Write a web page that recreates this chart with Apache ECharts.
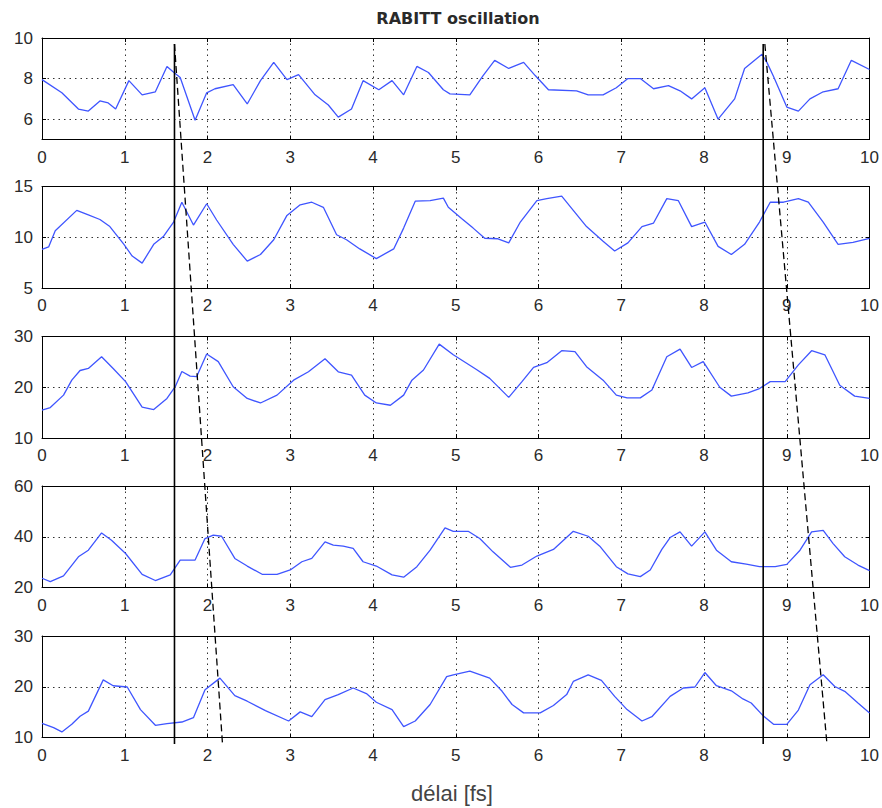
<!DOCTYPE html>
<html>
<head>
<meta charset="utf-8">
<script src="https://cdn.jsdelivr.net/npm/echarts@6/dist/echarts.min.js"></script>
<style>html,body{margin:0;padding:0;background:#fff;}#c{width:882px;height:808px;}</style>
</head>
<body>
<div id="c"></div>
<script>
const titleText = 'RABITT oscillation';
const xLabel = 'délai [fs]';
const xTicks = [0,1,2,3,4,5,6,7,8,9,10];

const yRanges = [[5,10],[5,15],[10,30],[20,60],[10,30]];
const yTickValues = [[6,8,10],[5,10,15],[10,20,30],[20,40,60],[10,20,30]];

const panel1 = [[0,7.95],[0.24,7.3],[0.44,6.5],[0.56,6.4],[0.70,6.9],[0.80,6.8],[0.89,6.5],[1.05,7.9],[1.21,7.2],[1.37,7.35],[1.51,8.6],[1.58,8.35],[1.67,8.05],[1.85,5.95],[1.99,7.3],[2.09,7.5],[2.31,7.7],[2.48,6.75],[2.64,7.9],[2.80,8.8],[2.96,7.95],[3.10,8.2],[3.30,7.2],[3.46,6.7],[3.58,6.1],[3.74,6.5],[3.88,7.9],[4.07,7.45],[4.23,7.9],[4.37,7.2],[4.53,8.6],[4.67,8.3],[4.85,7.45],[4.93,7.25],[5.17,7.2],[5.33,8.15],[5.47,8.9],[5.64,8.5],[5.82,8.8],[5.96,8.15],[6.12,7.45],[6.46,7.4],[6.60,7.2],[6.78,7.2],[6.94,7.55],[7.08,8.0],[7.23,8.0],[7.39,7.5],[7.57,7.65],[7.71,7.4],[7.85,7.0],[8.01,7.55],[8.17,6.0],[8.37,7.0],[8.49,8.5],[8.70,9.2],[8.76,8.8],[8.84,8.1],[9.00,6.6],[9.14,6.4],[9.28,7.0],[9.44,7.35],[9.62,7.5],[9.78,8.9],[10,8.45]];

const panel2 = [[0,8.8],[0.08,9.05],[0.16,10.65],[0.42,12.65],[0.56,12.2],[0.70,11.75],[0.82,11.05],[0.99,9.3],[1.09,8.15],[1.21,7.45],[1.35,9.3],[1.47,10.1],[1.59,11.5],[1.69,13.45],[1.83,11.2],[1.99,13.3],[2.11,11.7],[2.31,9.3],[2.48,7.65],[2.64,8.3],[2.80,9.75],[2.96,12.15],[3.12,13.2],[3.26,13.45],[3.40,12.95],[3.56,10.25],[3.68,9.75],[3.84,8.85],[4.04,7.9],[4.25,8.85],[4.37,10.9],[4.51,13.55],[4.69,13.6],[4.85,13.85],[4.91,12.95],[5.07,11.85],[5.21,10.9],[5.35,9.9],[5.51,9.85],[5.64,9.45],[5.78,11.5],[5.98,13.6],[6.10,13.8],[6.28,14.05],[6.42,12.65],[6.58,11.05],[6.78,9.6],[6.92,8.65],[7.08,9.45],[7.25,11.05],[7.39,11.4],[7.55,13.8],[7.69,13.6],[7.85,11.05],[8.01,11.5],[8.17,9.1],[8.33,8.3],[8.49,9.3],[8.67,11.5],[8.80,13.45],[8.96,13.45],[9.14,13.8],[9.26,13.45],[9.44,11.5],[9.62,9.3],[9.80,9.5],[10,9.9]];

const panel3 = [[0,15.5],[0.1,16.0],[0.26,18.45],[0.36,21.4],[0.46,23.3],[0.56,23.7],[0.72,26.0],[0.86,23.7],[1.01,21.1],[1.21,16.1],[1.35,15.6],[1.51,17.8],[1.61,20.1],[1.69,23.1],[1.79,22.2],[1.87,22.1],[1.99,26.55],[2.13,25.05],[2.31,20.1],[2.48,17.8],[2.64,16.9],[2.84,18.45],[3.04,21.4],[3.22,23.05],[3.42,25.6],[3.58,23.05],[3.74,22.4],[3.90,18.45],[4.04,16.9],[4.21,16.45],[4.37,18.45],[4.47,21.4],[4.61,23.4],[4.80,28.5],[4.97,26.4],[5.25,23.5],[5.41,21.75],[5.64,18.0],[5.80,21.1],[5.94,23.9],[6.10,24.85],[6.28,27.2],[6.44,27.0],[6.58,24.05],[6.78,21.4],[6.94,18.45],[7.07,17.9],[7.23,17.9],[7.37,19.45],[7.55,26.0],[7.71,27.5],[7.85,23.9],[7.99,25.05],[8.19,20.0],[8.33,18.25],[8.53,18.9],[8.67,19.75],[8.80,21.1],[8.98,21.1],[9.14,24.4],[9.30,27.2],[9.46,26.4],[9.64,20.4],[9.82,18.25],[10,17.8]];

const panel4 = [[0,23.65],[0.1,22.35],[0.26,24.55],[0.44,32.1],[0.56,34.7],[0.72,41.5],[0.84,38.6],[1.01,33.4],[1.21,25.2],[1.37,22.75],[1.55,24.95],[1.67,30.8],[1.85,30.8],[1.97,39.3],[2.07,40.6],[2.17,40.2],[2.33,31.45],[2.48,28.45],[2.66,25.2],[2.84,25.2],[3.0,26.9],[3.14,30.15],[3.26,31.45],[3.42,38.0],[3.52,36.7],[3.64,36.3],[3.76,35.4],[3.88,30.15],[4.04,28.45],[4.23,24.95],[4.37,24.05],[4.53,28.2],[4.69,34.7],[4.87,43.5],[4.97,42.15],[5.15,42.15],[5.29,39.3],[5.45,34.05],[5.66,27.95],[5.80,28.85],[5.98,32.4],[6.18,35.0],[6.42,42.15],[6.60,40.2],[6.74,36.3],[6.94,28.2],[7.08,25.35],[7.23,24.3],[7.35,26.9],[7.49,35.0],[7.59,39.7],[7.71,41.9],[7.85,36.3],[8.01,41.9],[8.15,34.7],[8.33,30.15],[8.51,29.25],[8.67,28.2],[8.86,28.2],[9.0,29.1],[9.16,34.7],[9.30,41.9],[9.44,42.55],[9.56,37.3],[9.70,32.1],[9.86,28.85],[10,26.65]];

const panel5 = [[0,12.8],[0.14,11.95],[0.24,11.1],[0.36,12.6],[0.46,14.2],[0.56,15.2],[0.74,21.35],[0.86,20.2],[1.03,19.95],[1.19,15.5],[1.37,12.4],[1.51,12.75],[1.69,13.05],[1.83,13.9],[1.97,19.4],[2.15,21.7],[2.33,18.25],[2.48,17.15],[2.70,15.3],[2.98,13.25],[3.12,15.05],[3.26,14.1],[3.42,17.45],[3.58,18.45],[3.76,19.75],[3.92,18.65],[4.04,16.95],[4.23,15.5],[4.37,12.15],[4.51,13.25],[4.69,16.5],[4.89,22.0],[4.97,22.35],[5.17,23.1],[5.41,21.7],[5.56,19.1],[5.68,16.5],[5.82,14.85],[6.02,14.85],[6.18,16.3],[6.34,18.45],[6.42,21.05],[6.60,22.35],[6.76,21.25],[6.92,18.1],[7.07,15.5],[7.25,13.25],[7.37,14.1],[7.59,18.1],[7.75,19.75],[7.89,19.95],[8.01,22.8],[8.15,20.2],[8.33,19.2],[8.47,17.6],[8.57,16.8],[8.71,14.35],[8.84,12.6],[9.0,12.6],[9.14,15.4],[9.28,20.4],[9.44,22.35],[9.58,20.05],[9.70,19.1],[9.86,16.8],[10,14.85]];

// annotation lines in delay units; vertical fraction 0 = bottom, 1 = top of the stack
const solidLine1 = [[1.6,0],[1.6,1]];
const dashedLine1 = [[1.6,1],[2.18,0]];
const solidLine2 = [[8.71,0],[8.71,1]];
const dashedLine2 = [[8.73,1],[9.48,0]];

const panels = [panel1, panel2, panel3, panel4, panel5];
const gridTops = [38, 186.5, 336.5, 486, 636];
const gridH = 101.5;
const FONT = 'Liberation Sans';

const grids = [], xAxes = [], yAxes = [], series = [];
panels.forEach((data, i) => {
  grids.push({left: 42, right: 12, top: gridTops[i], height: gridH});
  const [ymin, ymax] = yRanges[i];
  xAxes.push({
    type: 'value', gridIndex: i, min: 0, max: 10, interval: 1, position: 'bottom',
    axisLine: {show: true, onZero: false, lineStyle: {color: '#000', width: 1}},
    axisTick: {show: true, inside: true, length: 4, lineStyle: {color: '#000'}},
    axisLabel: {show: true, color: '#2a2a2a', fontSize: 17, fontFamily: FONT, margin: 9},
    splitLine: {show: true, lineStyle: {color: '#333', type: [1.5, 4], width: 1}}
  });
  xAxes.push({
    type: 'value', gridIndex: i, min: 0, max: 10, interval: 1, position: 'top',
    axisLine: {show: true, onZero: false, lineStyle: {color: '#000', width: 1}},
    axisTick: {show: true, inside: true, length: 4, lineStyle: {color: '#000'}},
    axisLabel: {show: false}, splitLine: {show: false}
  });
  const yTickCfg = {show: true, inside: true, length: 4, lineStyle: {color: '#000'}, customValues: yTickValues[i]};
  yAxes.push({
    type: 'value', gridIndex: i, min: ymin, max: ymax, position: 'left',
    axisLine: {show: true, onZero: false, lineStyle: {color: '#000', width: 1}},
    axisTick: yTickCfg,
    axisLabel: {show: true, color: '#2a2a2a', fontSize: 17, fontFamily: FONT, margin: 9, customValues: yTickValues[i]},
    splitLine: {show: true, lineStyle: {color: '#333', type: [1.5, 4], width: 1}}
  });
  yAxes.push({
    type: 'value', gridIndex: i, min: ymin, max: ymax, position: 'right',
    axisLine: {show: true, onZero: false, lineStyle: {color: '#000', width: 1}},
    axisTick: yTickCfg,
    axisLabel: {show: false}, splitLine: {show: false}
  });
  series.push({
    type: 'line', xAxisIndex: 2 * i, yAxisIndex: 2 * i, data: data,
    showSymbol: false, symbol: 'none', animation: false,
    lineStyle: {color: '#3f55ff', width: 1.3}, z: 3
  });
});

const oi = panels.length;
grids.push({left: 42, right: 12, top: 44, bottom: 64});
xAxes.push({type: 'value', gridIndex: oi, min: 0, max: 10, show: false});
yAxes.push({type: 'value', gridIndex: oi, min: 0, max: 1, show: false});
const annoX = 2 * oi, annoY = 2 * oi;
[[solidLine1, 'solid'], [solidLine2, 'solid'], [dashedLine1, [7, 4]], [dashedLine2, [7, 4]]].forEach(([d, t]) => {
  series.push({
    type: 'line', xAxisIndex: annoX, yAxisIndex: annoY, data: d, symbol: 'none', animation: false,
    lineStyle: {color: '#000', width: t === 'solid' ? 1.6 : 1.3, type: t}, z: 5
  });
});

const chart = echarts.init(document.getElementById('c'), null, {renderer: 'svg'});
chart.setOption({
  backgroundColor: '#fff',
  animation: false,
  title: {
    text: titleText, left: 453, top: 5, textAlign: 'center',
    textStyle: {fontFamily: 'DejaVu Sans', fontSize: 16, fontWeight: 'bold', color: '#2a2a2a'}
  },
  graphic: [{
    type: 'text', x: 452, y: 782,
    style: {text: xLabel, fontFamily: FONT, fontSize: 22, fill: '#444', textAlign: 'center'}
  }],
  grid: grids, xAxis: xAxes, yAxis: yAxes, series: series
});
</script>
</body>
</html>
